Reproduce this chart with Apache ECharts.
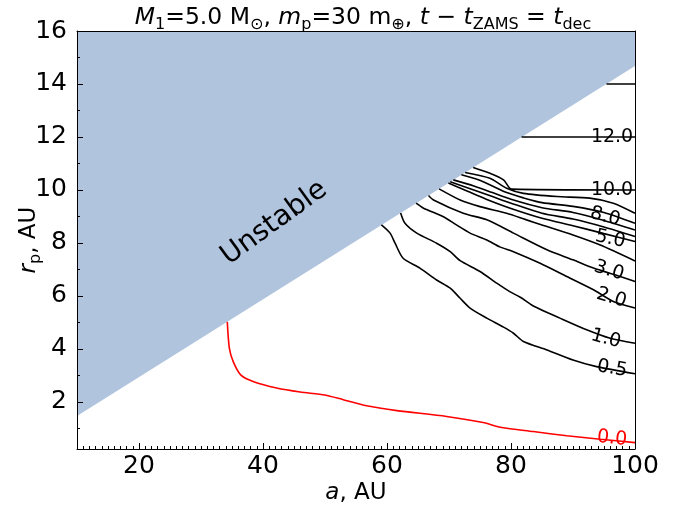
<!DOCTYPE html>
<html>
<head>
<meta charset="utf-8">
<script src="https://cdn.jsdelivr.net/npm/echarts@6/dist/echarts.min.js"></script>
<style>
  html, body { margin: 0; padding: 0; background: #fff; }
  #main { width: 687px; height: 508px; }
</style>
</head>
<body>
<div id="main"></div>
<script>
// axis ticks
var xTicks = [20, 40, 60, 80, 100];
var yTicks = [2, 4, 6, 8, 10, 12, 14, 16];
var xMinor = [];
for (var i = 11; i < 100; i++) if (i % 20 !== 0) xMinor.push(i);
var yMinor = [1, 3, 5, 7, 9, 11, 13, 15];

// edge of the unstable region
var unstableA = [10, 100];
var unstableR = [1.468, 14.68];

// contours [a, r_p]
var c00 = [[34.24,5.02],[34.57,4.03],[35.2,3.52],[36.4,3.02],[38.4,2.77],[42.2,2.52],[46.0,2.37],[50.0,2.26],[52.95,2.08],[56.7,1.85],[61.6,1.67],[69.6,1.45],[75.5,1.22],[78.5,1.03],[83.6,0.88],[89.0,0.72],[94.4,0.59],[100,0.46]];
var c05 = [[59.1,8.68],[60.5,8.37],[61.3,7.99],[62.6,7.42],[65.3,7.05],[68.0,6.6],[70.2,6.29],[71.8,5.91],[73.4,5.54],[76.1,5.16],[78.8,4.82],[80.4,4.59],[82.0,4.28],[85.8,3.96],[90.0,3.58],[93.8,3.33],[100,3.06]];
var c1 = [[62.2,9.13],[62.9,8.74],[64.8,8.37],[68.0,7.99],[70.2,7.67],[71.8,7.33],[75.0,6.92],[77.7,6.48],[79.8,6.16],[81.5,5.95],[83.6,5.62],[87.9,5.16],[92.2,4.72],[96.0,4.4],[100,4.21]];
var c2 = [[64.7,9.5],[65.9,9.31],[69.1,8.99],[71.2,8.68],[73.4,8.37],[76.1,8.11],[78.2,7.85],[80.4,7.67],[84.7,7.23],[89.0,6.73],[93.3,6.23],[96.5,5.79],[100,5.54]];
var c3 = [[66.7,9.79],[67.5,9.62],[72.3,9.12],[76.1,8.87],[80.4,8.37],[85.8,7.74],[90.0,7.36],[93.3,7.05],[97.6,6.73],[100,6.54]];
var c4 = [[68.4,10.04],[71.8,9.62],[75,9.37],[79.3,9.12],[82.5,8.87],[85,8.68],[90,8.3],[94.4,7.92],[100,7.32]];
var c5 = [[69.9,10.26],[73,9.95],[76,9.65],[80,9.3],[85,8.93],[90,8.65],[95,8.35],[100,8.05]];
var c6 = [[70.2,10.31],[74,10.0],[77,9.75],[80,9.5],[85,9.12],[90,8.9],[95,8.6],[100,8.24]];
var c7 = [[70.7,10.38],[74,10.15],[77,9.9],[80,9.65],[85,9.33],[90,9.15],[95,8.85],[100,8.49]];
var c8 = [[72.0,10.57],[74.5,10.4],[77,10.15],[79.3,9.9],[82,9.7],[85,9.52],[90,9.38],[95,9.15],[100,8.74]];
var c9 = [[72.6,10.66],[76.6,10.44],[79.3,10.06],[82.0,9.87],[87.4,9.75],[92.7,9.69],[96.5,9.5],[100,9.12]];
var c10 = [[73.9,10.85],[76.6,10.63],[78.8,10.38],[80.1,10.03],[100,10.0]];
var c12 = [[81.7,12.0],[100,12.0]];
var c14 = [[95.4,14.0],[100,14.0]];

// inline labels: [text, a, r, angle]
var contourLabels = {
  c00: ['0.0', 96.3, 0.62, -6],
  c05: ['0.5', 96.3, 3.25, -10],
  c1: ['1.0', 95.3, 4.38, -15],
  c2: ['2.0', 96.2, 5.92, -17],
  c3: ['3.0', 95.8, 6.95, -17],
  c5: ['5.0', 96.0, 8.15, -12],
  c8: ['8.0', 95.2, 8.99, -15],
  c10: ['10.0', 96.3, 10.0, 0],
  c12: ['12.0', 96.3, 12.0, 0]
};

var FONT = 'DejaVu Sans';
var myChart = echarts.init(document.getElementById('main'));

function contour(name, data, color) {
  var s = {
    name: name,
    type: 'line',
    data: data,
    symbol: 'none',
    smooth: 0.25,
    z: 3,
    lineStyle: { color: color, width: 1.6 },
    silent: true
  };
  var lab = contourLabels[name];
  if (lab) {
    s.markPoint = {
      symbol: 'circle',
      symbolSize: 0,
      silent: true,
      data: [{ name: lab[0], coord: [lab[1], lab[2]] }],
      label: {
        show: true,
        position: 'inside',
        formatter: '{b}',
        rotate: lab[3],
        color: color,
        fontFamily: FONT,
        fontSize: 19
      }
    };
  }
  return s;
}

var sub = { fontFamily: FONT, fontSize: 16, lineHeight: 16, verticalAlign: 'bottom', color: '#000' };
var ital = { fontFamily: FONT, fontSize: 23.5, lineHeight: 30, fontStyle: 'italic', color: '#000' };
var italAx = { fontFamily: FONT, fontSize: 23, lineHeight: 30, fontStyle: 'italic', color: '#000' };
var subAx = { fontFamily: FONT, fontSize: 16, lineHeight: 16, verticalAlign: 'bottom', color: '#000' };

option = {
  animation: false,
  backgroundColor: '#fff',
  title: {
    text: '{i|M}{s|1}=5.0 M{s|⊙}, {i|m}{s|p}=30 m{s|⊕}, {i|t} − {i|t}{s|ZAMS} = {i|t}{s|dec}',
    left: 358,
    top: -2,
    textAlign: 'center',
    textStyle: {
      fontFamily: FONT, fontSize: 23.5, fontWeight: 'normal', color: '#000', lineHeight: 30,
      rich: { i: ital, s: sub }
    }
  },
  grid: { left: 77, right: 52, top: 31, bottom: 59, containLabel: false, outerBoundsMode: 'none' },
  xAxis: [
    {
      type: 'value', min: 10, max: 100, position: 'bottom', z: 5,
      name: '{i|a}, AU', nameLocation: 'middle', nameGap: 29, nameMoveOverlap: false,
      nameTextStyle: { fontFamily: FONT, fontSize: 23, color: '#000', lineHeight: 30, rich: { i: italAx } },
      axisLine: { lineStyle: { color: '#000', width: 1 } },
      axisTick: { inside: true, length: 6, customValues: xTicks, lineStyle: { color: '#000' } },
      axisLabel: { customValues: xTicks, fontFamily: FONT, fontSize: 25, color: '#000', margin: 5 },
      splitLine: { show: false }
    },
    {
      type: 'value', min: 10, max: 100, position: 'bottom', z: 5,
      axisLine: { show: false },
      axisTick: { inside: true, length: 3, customValues: xMinor, lineStyle: { color: '#000' } },
      axisLabel: { show: false },
      splitLine: { show: false }
    },
    {
      type: 'value', min: 10, max: 100, position: 'top', z: 5,
      axisLine: { lineStyle: { color: '#000', width: 1 } },
      axisTick: { show: false }, axisLabel: { show: false }, splitLine: { show: false }
    }
  ],
  yAxis: [
    {
      type: 'value', min: 0.22, max: 16, position: 'left', z: 5,
      name: '{i|r}{s|p}, AU', nameLocation: 'middle', nameGap: 33, nameRotate: 90, nameMoveOverlap: false,
      nameTextStyle: { fontFamily: FONT, fontSize: 23, color: '#000', lineHeight: 30, rich: { i: italAx, s: subAx } },
      axisLine: { lineStyle: { color: '#000', width: 1 } },
      axisTick: { inside: true, length: 6, customValues: yTicks, lineStyle: { color: '#000' } },
      axisLabel: { customValues: yTicks, fontFamily: FONT, fontSize: 25, color: '#000', margin: 10 },
      splitLine: { show: false }
    },
    {
      type: 'value', min: 0.22, max: 16, position: 'left', z: 5,
      axisLine: { show: false },
      axisTick: { inside: true, length: 3, customValues: yMinor, lineStyle: { color: '#000' } },
      axisLabel: { show: false },
      splitLine: { show: false }
    },
    {
      type: 'value', min: 0.22, max: 16, position: 'right', z: 5,
      axisLine: { lineStyle: { color: '#000', width: 1 } },
      axisTick: { show: false }, axisLabel: { show: false }, splitLine: { show: false }
    }
  ],
  series: [
    {
      name: 'unstable',
      type: 'line',
      data: unstableA.map(function (a, k) { return [a, unstableR[k]]; }),
      symbol: 'none',
      z: 1,
      silent: true,
      lineStyle: { width: 0 },
      areaStyle: { color: '#b0c4de', opacity: 1, origin: 'end' },
      markPoint: {
        symbol: 'circle', symbolSize: 0, silent: true,
        data: [{ name: 'Unstable', coord: [41.8, 8.75] }],
        label: { show: true, position: 'inside', formatter: '{b}', rotate: 36, color: '#000', fontFamily: FONT, fontSize: 28 }
      }
    },
    contour('c00', c00, '#ff0000'),
    contour('c05', c05, '#000'),
    contour('c1', c1, '#000'),
    contour('c2', c2, '#000'),
    contour('c3', c3, '#000'),
    contour('c4', c4, '#000'),
    contour('c5', c5, '#000'),
    contour('c6', c6, '#000'),
    contour('c7', c7, '#000'),
    contour('c8', c8, '#000'),
    contour('c9', c9, '#000'),
    contour('c10', c10, '#000'),
    contour('c12', c12, '#000'),
    contour('c14', c14, '#000')
  ]
};

myChart.setOption(option);
</script>
</body>
</html>
